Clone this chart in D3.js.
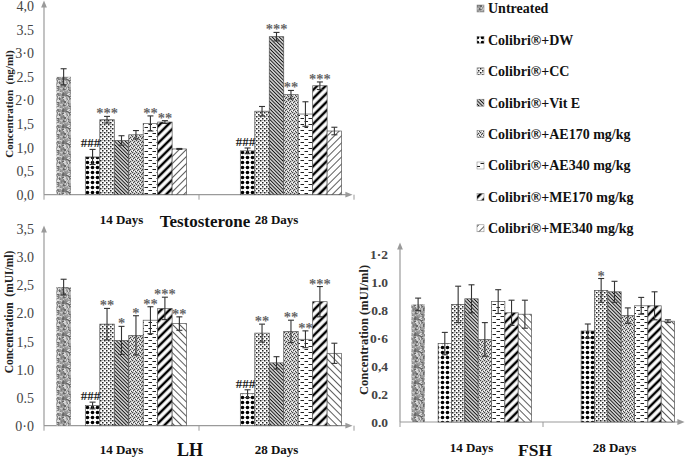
<!DOCTYPE html>
<html><head><meta charset="utf-8">
<script src="https://cdn.jsdelivr.net/npm/d3@7"></script>
<style>
html,body{margin:0;padding:0;background:#fff;}
svg{display:block;}
text{font-family:"Liberation Serif","Times New Roman",serif;}
</style></head>
<body>
<svg id="chart" width="685" height="460"></svg>
<script>
// ---------- DATA ----------
const categories = ["14 Days", "28 Days"];
const series = ["Untreated", "Colibri®+DW", "Colibri®+CC", "Colibri®+Vit E",
  "Colibri®+AE170 mg/kg", "Colibri®+AE340 mg/kg", "Colibri®+ME170 mg/kg", "Colibri®+ME340 mg/kg"];
// slot order inside each group (one empty slot after Untreated)
const slots = ["Untreated", "", "Colibri®+DW", "Colibri®+CC", "Colibri®+Vit E",
  "Colibri®+AE170 mg/kg", "Colibri®+AE340 mg/kg", "Colibri®+ME170 mg/kg", "Colibri®+ME340 mg/kg"];

// Testosterone (ng/ml)
const testo14 = [2.50, 0.80, 1.59, 1.15, 1.27, 1.51, 1.54, 0.97];
const testo28 = [null, 0.93, 1.77, 3.35, 2.12, 1.71, 2.31, 1.35];
const testoErr14 = [0.17, 0.16, 0.07, 0.10, 0.09, 0.16, 0.03, 0.01];
const testoErr28 = [null, 0.06, 0.10, 0.09, 0.09, 0.26, 0.08, 0.08];
const testoSig14 = ["", "###", "***", "", "", "**", "**", ""];
const testoSig28 = ["", "###", "", "***", "**", "", "***", ""];
const testoTicks = [0, 0.5, 1, 1.5, 2, 2.5, 3, 3.5, 4];
const testoTickLabels = ["0,0", "0,5", "1,0", "1,5", "2·0", "2.5", "3·0", "3.5", "4,0"];

// LH (mUI/ml)
const lh14 = [2.47, 0.36, 1.81, 1.52, 1.61, 1.88, 2.09, 1.82];
const lh28 = [null, 0.57, 1.65, 1.12, 1.68, 1.54, 2.21, 1.29];
const lhErr14 = [0.14, 0.06, 0.28, 0.25, 0.35, 0.24, 0.20, 0.12];
const lhErr28 = [null, 0.07, 0.16, 0.11, 0.20, 0.15, 0.27, 0.18];
const lhSig14 = ["", "###", "**", "*", "*", "**", "***", "**"];
const lhSig28 = ["", "###", "**", "", "**", "**", "***", ""];
const lhTicks = [0, 0.5, 1, 1.5, 2, 2.5, 3, 3.5];
const lhTickLabels = ["0·0", "0.5", "1.0", "1,5", "2.0", "2,5", "3.0", "3,5"];

// FSH (mUI/ml)
const fsh14 = [0.84, 0.56, 0.84, 0.88, 0.59, 0.86, 0.78, 0.77];
const fsh28 = [null, 0.65, 0.94, 0.93, 0.76, 0.83, 0.83, 0.72];
const fshErr14 = [0.045, 0.08, 0.13, 0.10, 0.12, 0.085, 0.09, 0.10];
const fshErr28 = [null, 0.05, 0.085, 0.075, 0.055, 0.06, 0.10, 0.01];
const fshSig14 = ["", "", "", "", "", "", "", ""];
const fshSig28 = ["", "", "*", "", "", "", "", ""];
const fshTicks = [0, 0.2, 0.4, 0.6, 0.8, 1.0, 1.2];
const fshTickLabels = ["0.0", "0.2", "0,4", "0·6", "0.8", "1.0", "1·2"];

// ---------- PATTERNS ----------
const svg = d3.select("#chart");
svg.append("rect").attr("width", 685).attr("height", 460).attr("fill", "#fff");
const defs = svg.append("defs");

function lcg(seed) { let s = seed; return () => { s = (s * 1103515245 + 12345) % 2147483648; return s / 2147483648; }; }

// granite (Untreated)
(function () {
  const p = defs.append("pattern").attr("id", "p0").attr("patternUnits", "userSpaceOnUse").attr("width", 16).attr("height", 16);
  p.append("rect").attr("width", 16).attr("height", 16).attr("fill", "#9c9c9c");
  const r = lcg(7);
  const cols = ["#686868", "#c8c8c8", "#7e7e7e", "#b8b8b8", "#d8d8d8", "#888888"];
  for (let i = 0; i < 120; i++) {
    p.append("rect").attr("x", Math.floor(r() * 16)).attr("y", Math.floor(r() * 16))
      .attr("width", 1 + Math.floor(r() * 2)).attr("height", 1 + Math.floor(r() * 2))
      .attr("fill", cols[Math.floor(r() * cols.length)]);
  }
})();
// DW: black dots
(function () {
  const p = defs.append("pattern").attr("id", "p1").attr("patternUnits", "userSpaceOnUse").attr("width", 5).attr("height", 5);
  p.append("rect").attr("width", 5).attr("height", 5).attr("fill", "#fff");
  p.append("circle").attr("cx", 2.5).attr("cy", 2.5).attr("r", 1.8).attr("fill", "#000");
})();
// CC: confetti dots
(function () {
  const p = defs.append("pattern").attr("id", "p2").attr("patternUnits", "userSpaceOnUse").attr("width", 4).attr("height", 4);
  p.append("rect").attr("width", 4).attr("height", 4).attr("fill", "#fff");
  p.append("rect").attr("x", 0).attr("y", 0).attr("width", 1.5).attr("height", 1.5).attr("fill", "#222");
  p.append("rect").attr("x", 2).attr("y", 2).attr("width", 1.5).attr("height", 1.5).attr("fill", "#222");
  p.append("rect").attr("x", 2.4).attr("y", 0.2).attr("width", 0.9).attr("height", 0.9).attr("fill", "#555");
})();
// diagonal line patterns
function diag(id, spacing, width, color, angle, bg) {
  const p = defs.append("pattern").attr("id", id).attr("patternUnits", "userSpaceOnUse")
    .attr("width", spacing).attr("height", spacing).attr("patternTransform", `rotate(${angle})`);
  p.append("rect").attr("width", spacing).attr("height", spacing).attr("fill", bg || "#fff");
  p.append("line").attr("x1", spacing / 2).attr("x2", spacing / 2).attr("y1", 0).attr("y2", spacing)
    .attr("stroke", color).attr("stroke-width", width);
}
diag("p3", 2.5, 1.2, "#111", -45);          // Vit E dense
// AE170: grey speckle
(function () {
  const p = defs.append("pattern").attr("id", "p4").attr("patternUnits", "userSpaceOnUse").attr("width", 4).attr("height", 4);
  p.append("rect").attr("width", 4).attr("height", 4).attr("fill", "#d0d0d0");
  [[0, 0], [2, 1], [1, 2], [3, 3]].forEach(([x, y]) => p.append("rect").attr("x", x).attr("y", y).attr("width", 1.1).attr("height", 1.1).attr("fill", "#444"));
  [[2, 3], [0, 2]].forEach(([x, y]) => p.append("rect").attr("x", x).attr("y", y).attr("width", 1).attr("height", 1).attr("fill", "#fff"));
})();
// AE340: horizontal dashes
(function () {
  const p = defs.append("pattern").attr("id", "p5").attr("patternUnits", "userSpaceOnUse").attr("width", 8).attr("height", 6);
  p.append("rect").attr("width", 8).attr("height", 6).attr("fill", "#fff");
  p.append("line").attr("x1", 0.5).attr("x2", 4).attr("y1", 1.5).attr("y2", 1.5).attr("stroke", "#222").attr("stroke-width", 1);
  p.append("line").attr("x1", 4.5).attr("x2", 8).attr("y1", 4.5).attr("y2", 4.5).attr("stroke", "#222").attr("stroke-width", 1);
})();
diag("p6", 6, 2.5, "#000", 45);              // ME170 wide
diag("p7", 5, 0.8, "#333", 45);              // ME340 thin "/"
diag("p7b", 5, 0.8, "#333", -45);            // ME340 thin "\"
const fills = ["url(#p0)", "url(#p1)", "url(#p2)", "url(#p3)", "url(#p4)", "url(#p5)", "url(#p6)", "url(#p7)"];

// arrow marker
defs.append("marker").attr("id", "arrow").attr("viewBox", "0 0 10 10").attr("refX", 5).attr("refY", 5)
  .attr("markerWidth", 6).attr("markerHeight", 6).attr("orient", "auto")
  .append("path").attr("d", "M0,1 L10,5 L0,9 Z").attr("fill", "#9a9a9a");

// ---------- CHART ----------
function drawChart(cfg) {
  const g = svg.append("g");
  const x0 = d3.scaleBand().domain(categories).range(cfg.xRange).padding(0);
  const bw = x0.bandwidth();
  const x1 = d3.scaleBand().domain(slots).range([bw * 0.08, bw * 0.92]).padding(0);
  const y = d3.scaleLinear().domain([0, cfg.yMax]).range(cfg.yRange);
  const y0 = y(0);

  // axes
  g.append("line").attr("x1", cfg.xRange[0]).attr("x2", cfg.xRange[0]).attr("y1", y0).attr("y2", cfg.yTop)
    .attr("stroke", "#9a9a9a").attr("stroke-width", 1.2).attr("marker-end", "url(#arrow)");
  g.append("line").attr("x1", cfg.xRange[0]).attr("x2", cfg.xEnd).attr("y1", y0).attr("y2", y0)
    .attr("stroke", "#9a9a9a").attr("stroke-width", 1.2).attr("marker-end", "url(#arrow)");
  // x tick marks at band boundaries
  const bounds = categories.map(c => x0(c)).concat([x0.range()[1]]);
  g.selectAll(".xt").data(bounds).join("line").attr("x1", d => d).attr("x2", d => d)
    .attr("y1", y0).attr("y2", y0 + 5).attr("stroke", "#9a9a9a").attr("stroke-width", 1);

  const ya = g.append("g").attr("transform", `translate(${cfg.xRange[0]},0)`)
    .call(d3.axisLeft(y).tickValues(cfg.ticks).tickFormat((d, i) => cfg.tickLabels[i]).tickSize(0).tickPadding(cfg.tickPad));
  ya.select(".domain").remove();
  ya.selectAll("text").attr("font-family", "Liberation Serif, serif").attr("font-size", cfg.tickFont)
    .attr("font-weight", cfg.tickWeight).attr("fill", "#444");

  const xa = g.append("g").attr("transform", `translate(0,${y0})`)
    .call(d3.axisBottom(x0).tickSize(0).tickPadding(cfg.catPad));
  xa.select(".domain").remove();
  xa.selectAll("text").attr("font-family", "Liberation Serif, serif").attr("font-size", 13)
    .attr("font-weight", "bold").attr("fill", "#111");

  // bars
  const rows = [];
  categories.forEach((c, ci) => {
    series.forEach((s, si) => {
      const v = cfg.values[ci][si];
      if (v == null) return;
      rows.push({ c, s, si, v, e: cfg.errors[ci][si], sig: cfg.sig[ci][si] });
    });
  });
  const bars = g.append("g");
  bars.selectAll("rect").data(rows).join("rect")
    .attr("x", d => x0(d.c) + x1(d.s)).attr("width", x1.bandwidth())
    .attr("y", d => y(d.v)).attr("height", d => y0 - y(d.v))
    .attr("fill", d => (d.si === 7 && cfg.me340) ? cfg.me340 : fills[d.si])
    .attr("stroke", d => d.si === 0 ? "none" : "#555").attr("stroke-width", 0.7);

  // error bars
  const eb = g.append("g").attr("stroke", "#333").attr("stroke-width", 1.1);
  rows.forEach(d => {
    const cx = x0(d.c) + x1(d.s) + x1.bandwidth() / 2;
    const t = y(d.v + d.e), b = y(d.v - d.e);
    eb.append("line").attr("x1", cx).attr("x2", cx).attr("y1", t).attr("y2", b);
    eb.append("line").attr("x1", cx - 3).attr("x2", cx + 3).attr("y1", t).attr("y2", t);
    eb.append("line").attr("x1", cx - 3).attr("x2", cx + 3).attr("y1", b).attr("y2", b);
  });

  // significance marks
  g.append("g").selectAll("text").data(rows.filter(d => d.sig)).join("text")
    .attr("x", d => x0(d.c) + x1(d.s) + x1.bandwidth() / 2 + (d.sig[0] === "#" ? -2 : 0))
    .attr("y", d => y(d.v + d.e) + (d.sig[0] === "#" ? -2 : 2))
    .attr("text-anchor", "middle")
    .attr("font-size", d => d.sig[0] === "#" ? 13 : 14.5)
    .attr("font-weight", "bold")
    .attr("fill", d => d.sig[0] === "#" ? "#222" : "#666")
    .text(d => d.sig);

  // titles
  g.append("text").attr("x", cfg.title.x).attr("y", cfg.title.y).attr("text-anchor", "middle")
    .attr("font-size", cfg.title.size).attr("font-weight", "bold").attr("fill", "#111").text(cfg.title.text);
  g.append("text").attr("transform", `translate(${cfg.ytitle.x},${cfg.ytitle.y}) rotate(-90)`)
    .attr("text-anchor", "middle").attr("font-size", cfg.ytitle.size).attr("font-weight", "bold")
    .attr("fill", "#222").attr("xml:space", "preserve").text(cfg.ytitle.text);
}

drawChart({
  xRange: [44, 354], xEnd: 349, yMax: 4, yRange: [194.7, 6], yTop: 4,
  ticks: testoTicks, tickLabels: testoTickLabels, tickPad: 10, tickFont: 14, tickWeight: "normal", catPad: 20,
  values: [testo14, testo28], errors: [testoErr14, testoErr28], sig: [testoSig14, testoSig28],
  me340: "url(#p7)",
  title: { text: "Testosterone", x: 205, y: 227, size: 17 },
  ytitle: { text: "Concentration  (ng/ml)", x: 13, y: 104, size: 11 }
});
drawChart({
  xRange: [44, 354], xEnd: 349, yMax: 3.5, yRange: [425.7, 229.3], yTop: 229,
  ticks: lhTicks, tickLabels: lhTickLabels, tickPad: 10, tickFont: 14, tickWeight: "normal", catPad: 19,
  values: [lh14, lh28], errors: [lhErr14, lhErr28], sig: [lhSig14, lhSig28],
  me340: "url(#p7b)",
  title: { text: "LH", x: 190, y: 456, size: 18 },
  ytitle: { text: "Concentration  (mUI/ml)", x: 13, y: 312, size: 11.5 }
});
drawChart({
  xRange: [400, 686], xEnd: 681, yMax: 1.2, yRange: [422, 254], yTop: 246,
  ticks: fshTicks, tickLabels: fshTickLabels, tickPad: 12, tickFont: 13.5, tickWeight: "bold", catPad: 21,
  values: [fsh14, fsh28], errors: [fshErr14, fshErr28], sig: [fshSig14, fshSig28],
  me340: "url(#p7b)",
  title: { text: "FSH", x: 535, y: 456, size: 17.5 },
  ytitle: { text: "Concentration (mUI/ml)", x: 368, y: 330, size: 12.5 }
});

// ---------- LEGEND ----------
const leg = svg.append("g");
series.forEach((s, i) => {
  const cy = 8.5 + i * 31.4;
  leg.append("rect").attr("x", 477).attr("y", cy - 3.5).attr("width", 7).attr("height", 7)
    .attr("fill", fills[i]).attr("stroke", "#777").attr("stroke-width", 0.5);
  leg.append("text").attr("x", 488).attr("y", cy).attr("dy", "0.35em")
    .attr("font-size", 14).attr("font-weight", "bold").attr("fill", "#111").text(s);
});
</script>
</body></html>
